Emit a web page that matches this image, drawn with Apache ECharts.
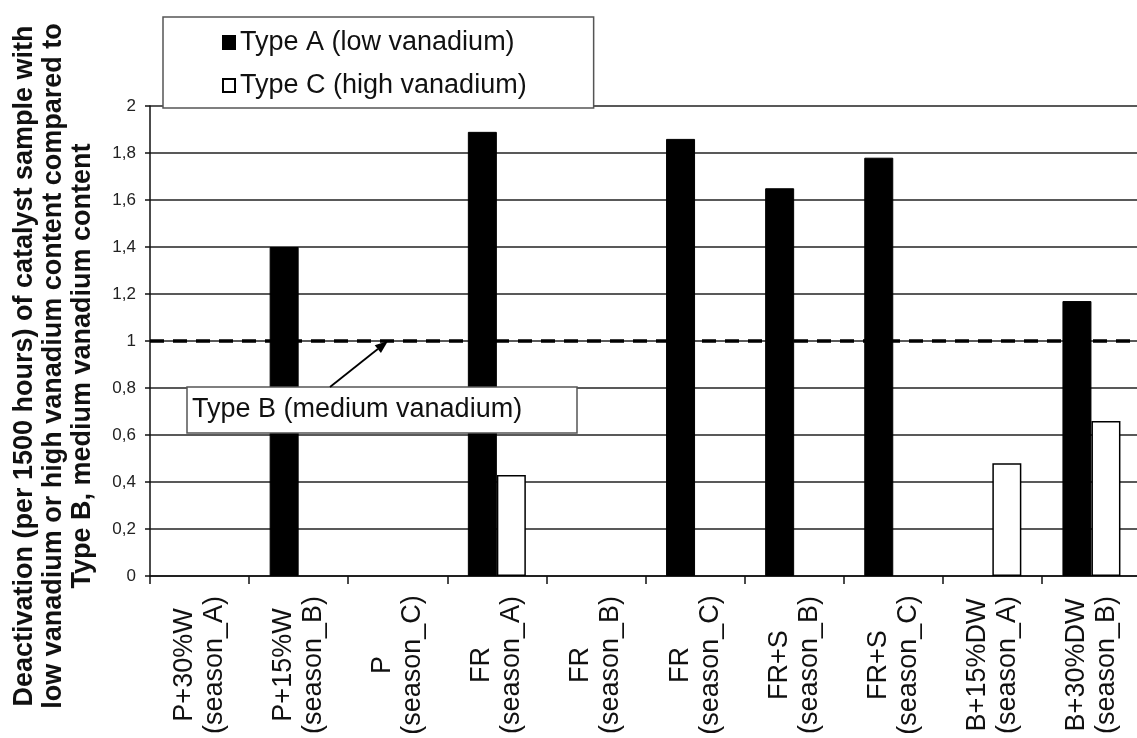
<!DOCTYPE html>
<html>
<head>
<meta charset="utf-8">
<script src="https://cdn.jsdelivr.net/npm/echarts@6/dist/echarts.min.js"></script>
<style>
  html, body { margin: 0; padding: 0; background: #fff; }
  #chart { width: 1137px; height: 738px; }
</style>
</head>
<body>
<div id="chart"></div>
<script>
// Catalyst samples (fuel mix and season)
const categories = [
  'P+30%W\n(season_A)',
  'P+15%W\n(season_B)',
  'P\n(season_C)',
  'FR\n(season_A)',
  'FR\n(season_B)',
  'FR\n(season_C)',
  'FR+S\n(season_B)',
  'FR+S\n(season_C)',
  'B+15%DW\n(season_A)',
  'B+30%DW\n(season_B)'
];

// Relative deactivation compared to Type B (= 1)
const typeA = [null, 1.40, null, 1.89, null, 1.86, 1.65, 1.78, null, 1.17];
const typeC = [null, null, null, 0.43, null, null, null, null, 0.48, 0.66];

const referenceLevel = 1;
const seriesNames = ['Type A (low vanadium)', 'Type C (high vanadium)'];
const referenceName = 'Type B (medium vanadium)';
const yTitle = [
  'Deactivation (per 1500 hours) of catalyst sample with',
  'low vanadium or high vanadium content compared to',
  'Type B, medium vanadium content'
];

const FONT = '"Liberation Sans", Arial, sans-serif';
const chart = echarts.init(document.getElementById('chart'));

chart.setOption({
  backgroundColor: '#fff',
  animation: false,
  grid: {
    left: 150, right: -4, top: 106, bottom: 162,
    containLabel: false,
    outerBoundsMode: 'none'
  },
  legend: {
    orient: 'vertical',
    left: 163,
    top: 17,
    padding: [12, 67, 9, 59],
    itemGap: 16,
    itemWidth: 12,
    itemHeight: 13,
    backgroundColor: '#fff',
    borderColor: '#555',
    borderWidth: 1.5,
    borderRadius: 0,
    textStyle: { fontFamily: FONT, fontSize: 27, color: '#111' },
    data: [
      { name: seriesNames[0], icon: 'rect' },
      { name: seriesNames[1], icon: 'rect' }
    ]
  },
  xAxis: {
    type: 'category',
    data: categories,
    axisLine: { lineStyle: { color: '#111', width: 1.5 } },
    axisTick: { show: true, length: 8, lineStyle: { color: '#111', width: 1.5 } },
    axisLabel: {
      interval: 0,
      rotate: 90,
      align: 'center',
      margin: 89,
      fontFamily: FONT,
      fontSize: 27,
      lineHeight: 30,
      color: '#111'
    },
    splitLine: { show: false }
  },
  yAxis: {
    type: 'value',
    min: 0,
    max: 2,
    interval: 0.2,
    axisLine: { show: true, lineStyle: { color: '#111', width: 1.5 } },
    axisTick: { show: true, length: 5, lineStyle: { color: '#111', width: 1.5 } },
    axisLabel: {
      margin: 14,
      fontFamily: FONT,
      fontSize: 17,
      color: '#222',
      formatter: v => String(+v.toFixed(1)).replace('.', ',')
    },
    splitLine: { show: true, lineStyle: { color: '#222', width: 1.5 } }
  },
  series: [
    {
      name: seriesNames[0],
      type: 'bar',
      data: typeA,
      barWidth: 29,
      barGap: '0%',
      itemStyle: { color: '#000', borderColor: '#000', borderWidth: 1 },
      markLine: {
        silent: true,
        symbol: 'none',
        label: { show: false },
        lineStyle: { color: '#000', width: 3.5, type: [14, 9] },
        data: [{ yAxis: referenceLevel }]
      }
    },
    {
      name: seriesNames[1],
      type: 'bar',
      data: typeC,
      barWidth: 29,
      itemStyle: { color: '#fff', borderColor: '#000', borderWidth: 1.5 }
    }
  ]
});

// Callout box for the Type B reference level, with an arrow onto the dashed line
const tipY = chart.convertToPixel({ yAxisIndex: 0 }, referenceLevel);
const tip = [388, tipY];
const tail = [330, 387];
const dx = tip[0] - tail[0], dy = tip[1] - tail[1];
const len = Math.hypot(dx, dy);
const ux = dx / len, uy = dy / len;
const headLen = 13, headHalf = 5;
const bx = tip[0] - ux * headLen, by = tip[1] - uy * headLen;

chart.setOption({
  graphic: [
    {
      type: 'text',
      x: 54,
      y: 366,
      rotation: Math.PI / 2,
      z: 10,
      style: {
        text: yTitle.join('\n'),
        fontFamily: FONT,
        fontWeight: 'bold',
        fontSize: 27,
        lineHeight: 29,
        fill: '#111',
        align: 'center',
        verticalAlign: 'middle'
      }
    },
    {
      type: 'rect',
      z: 20,
      shape: { x: 187, y: 387, width: 390, height: 46 },
      style: { fill: '#fff', stroke: '#555', lineWidth: 1.5 }
    },
    {
      type: 'text',
      z: 21,
      x: 192,
      y: 410,
      style: {
        text: referenceName,
        fontFamily: FONT,
        fontSize: 27,
        fill: '#111',
        verticalAlign: 'middle'
      }
    },
    {
      type: 'line',
      z: 21,
      shape: { x1: tail[0], y1: tail[1], x2: bx, y2: by },
      style: { stroke: '#000', lineWidth: 1.8 }
    },
    {
      type: 'polygon',
      z: 21,
      shape: {
        points: [
          tip,
          [bx - uy * headHalf, by + ux * headHalf],
          [bx + uy * headHalf, by - ux * headHalf]
        ]
      },
      style: { fill: '#000' }
    }
  ]
});
</script>
</body>
</html>
